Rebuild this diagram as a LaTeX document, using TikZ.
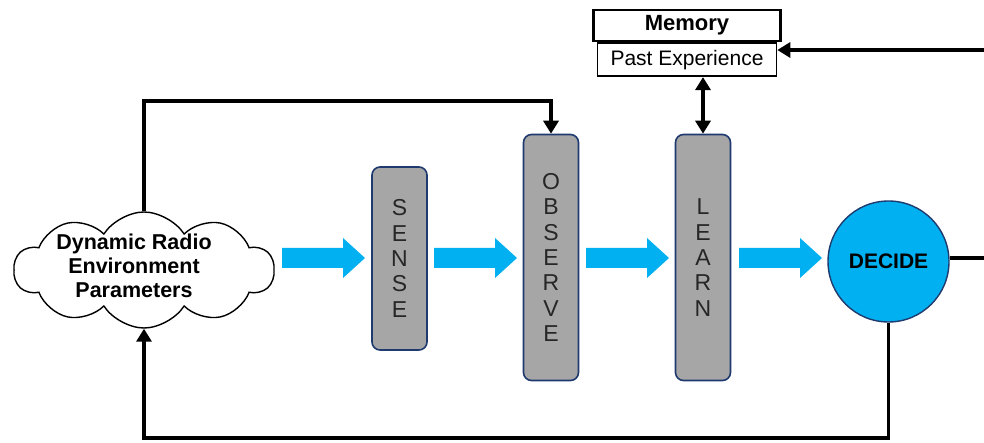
\documentclass[tikz,border=0pt]{standalone}
\usepackage{fontspec}
\setmainfont{Liberation Sans}
\usetikzlibrary{shapes.symbols,arrows.meta}
\definecolor{boxgray}{HTML}{A6A6A6}
\definecolor{boxedge}{HTML}{1F3A6E}
\definecolor{skyblue}{HTML}{00B0F0}
\definecolor{lettergray}{HTML}{262626}
\tikzset{
  stagebox/.style={draw=boxedge, line width=1.6pt, fill=boxgray, rounded corners=8pt,
    minimum width=55pt, inner sep=0pt, font=\fontsize{23}{25.3}\selectfont, text=lettergray,
    align=center},
  conn/.style={line width=3.6pt, line join=miter},
  tip/.style={-{Triangle[width=15pt,length=13pt]}},
  fatarrow/.pic={\fill[skyblue] (0,-10) -- (61,-10) -- (61,-20) -- (83,0) -- (61,20) -- (61,10) -- (0,10) -- cycle;},
}
\begin{document}
\begin{tikzpicture}[x=1pt,y=-1pt]
\useasboundingbox (0,0) rectangle (984,443);
% cloud
\node[cloud, draw, line width=1.4pt, cloud puffs=10, cloud puff arc=115,
  minimum width=260pt, minimum height=116pt, inner sep=0pt] (env) at (144,270) {};
\node[font=\bfseries\fontsize{21.5}{24}\selectfont, align=center, inner sep=0pt] (envtext) at (134,266)
  {Dynamic Radio\\Environment\\Parameters};
% stage boxes
\node[stagebox, minimum height=183pt] (sense) at (399.5,258.5) {S\\E\\N\\S\\E};
\node[stagebox, minimum height=246pt] (observe) at (551,257.5) {O\\B\\S\\E\\R\\V\\E};
\node[stagebox, minimum height=246pt] (learn) at (703,257.5) {L\\E\\A\\R\\N};
\node[circle, draw=boxedge, line width=1.4pt, fill=skyblue, minimum size=121pt, inner sep=0pt,
  font=\bfseries\fontsize{21}{24}\selectfont] (decide) at (888.5,261.5) {DECIDE};
% memory
\node[draw, line width=2.8pt, minimum width=187pt, minimum height=31pt, inner sep=0pt,
  font=\bfseries\fontsize{22}{24}\selectfont] (memory) at (687,25.5) {Memory};
\node[draw, line width=1.6pt, minimum width=179pt, minimum height=33pt, inner sep=0pt,
  font=\fontsize{21}{24}\selectfont, anchor=north] (past) at (687,42.5) {Past Experience};
% blue arrows
\pic at (282,258) {fatarrow};
\pic at (434,258) {fatarrow};
\pic at (586,258) {fatarrow};
\pic at (739,258) {fatarrow};
% connectors
\coordinate (topy) at (0,101);
\draw[conn,tip] (env.north) -- (env.north |- topy) -- (observe.north |- topy) -- (observe.north);
\coordinate (boty) at (0,438);
\draw[conn,tip] (decide.south) -- (decide.south |- boty) -- (env.south |- boty) -- (env.south);
\draw[conn,{Triangle[width=15pt,length=13pt]}-{Triangle[width=15pt,length=13pt]}] (past.south -| learn.north) -- (learn.north);
\coordinate (rin) at (984,50);
\draw[conn,tip] (rin) -- (past.east |- rin);
\coordinate (rout) at (984,258);
\draw[conn] (decide.east |- rout) -- (rout);
\end{tikzpicture}
\end{document}
